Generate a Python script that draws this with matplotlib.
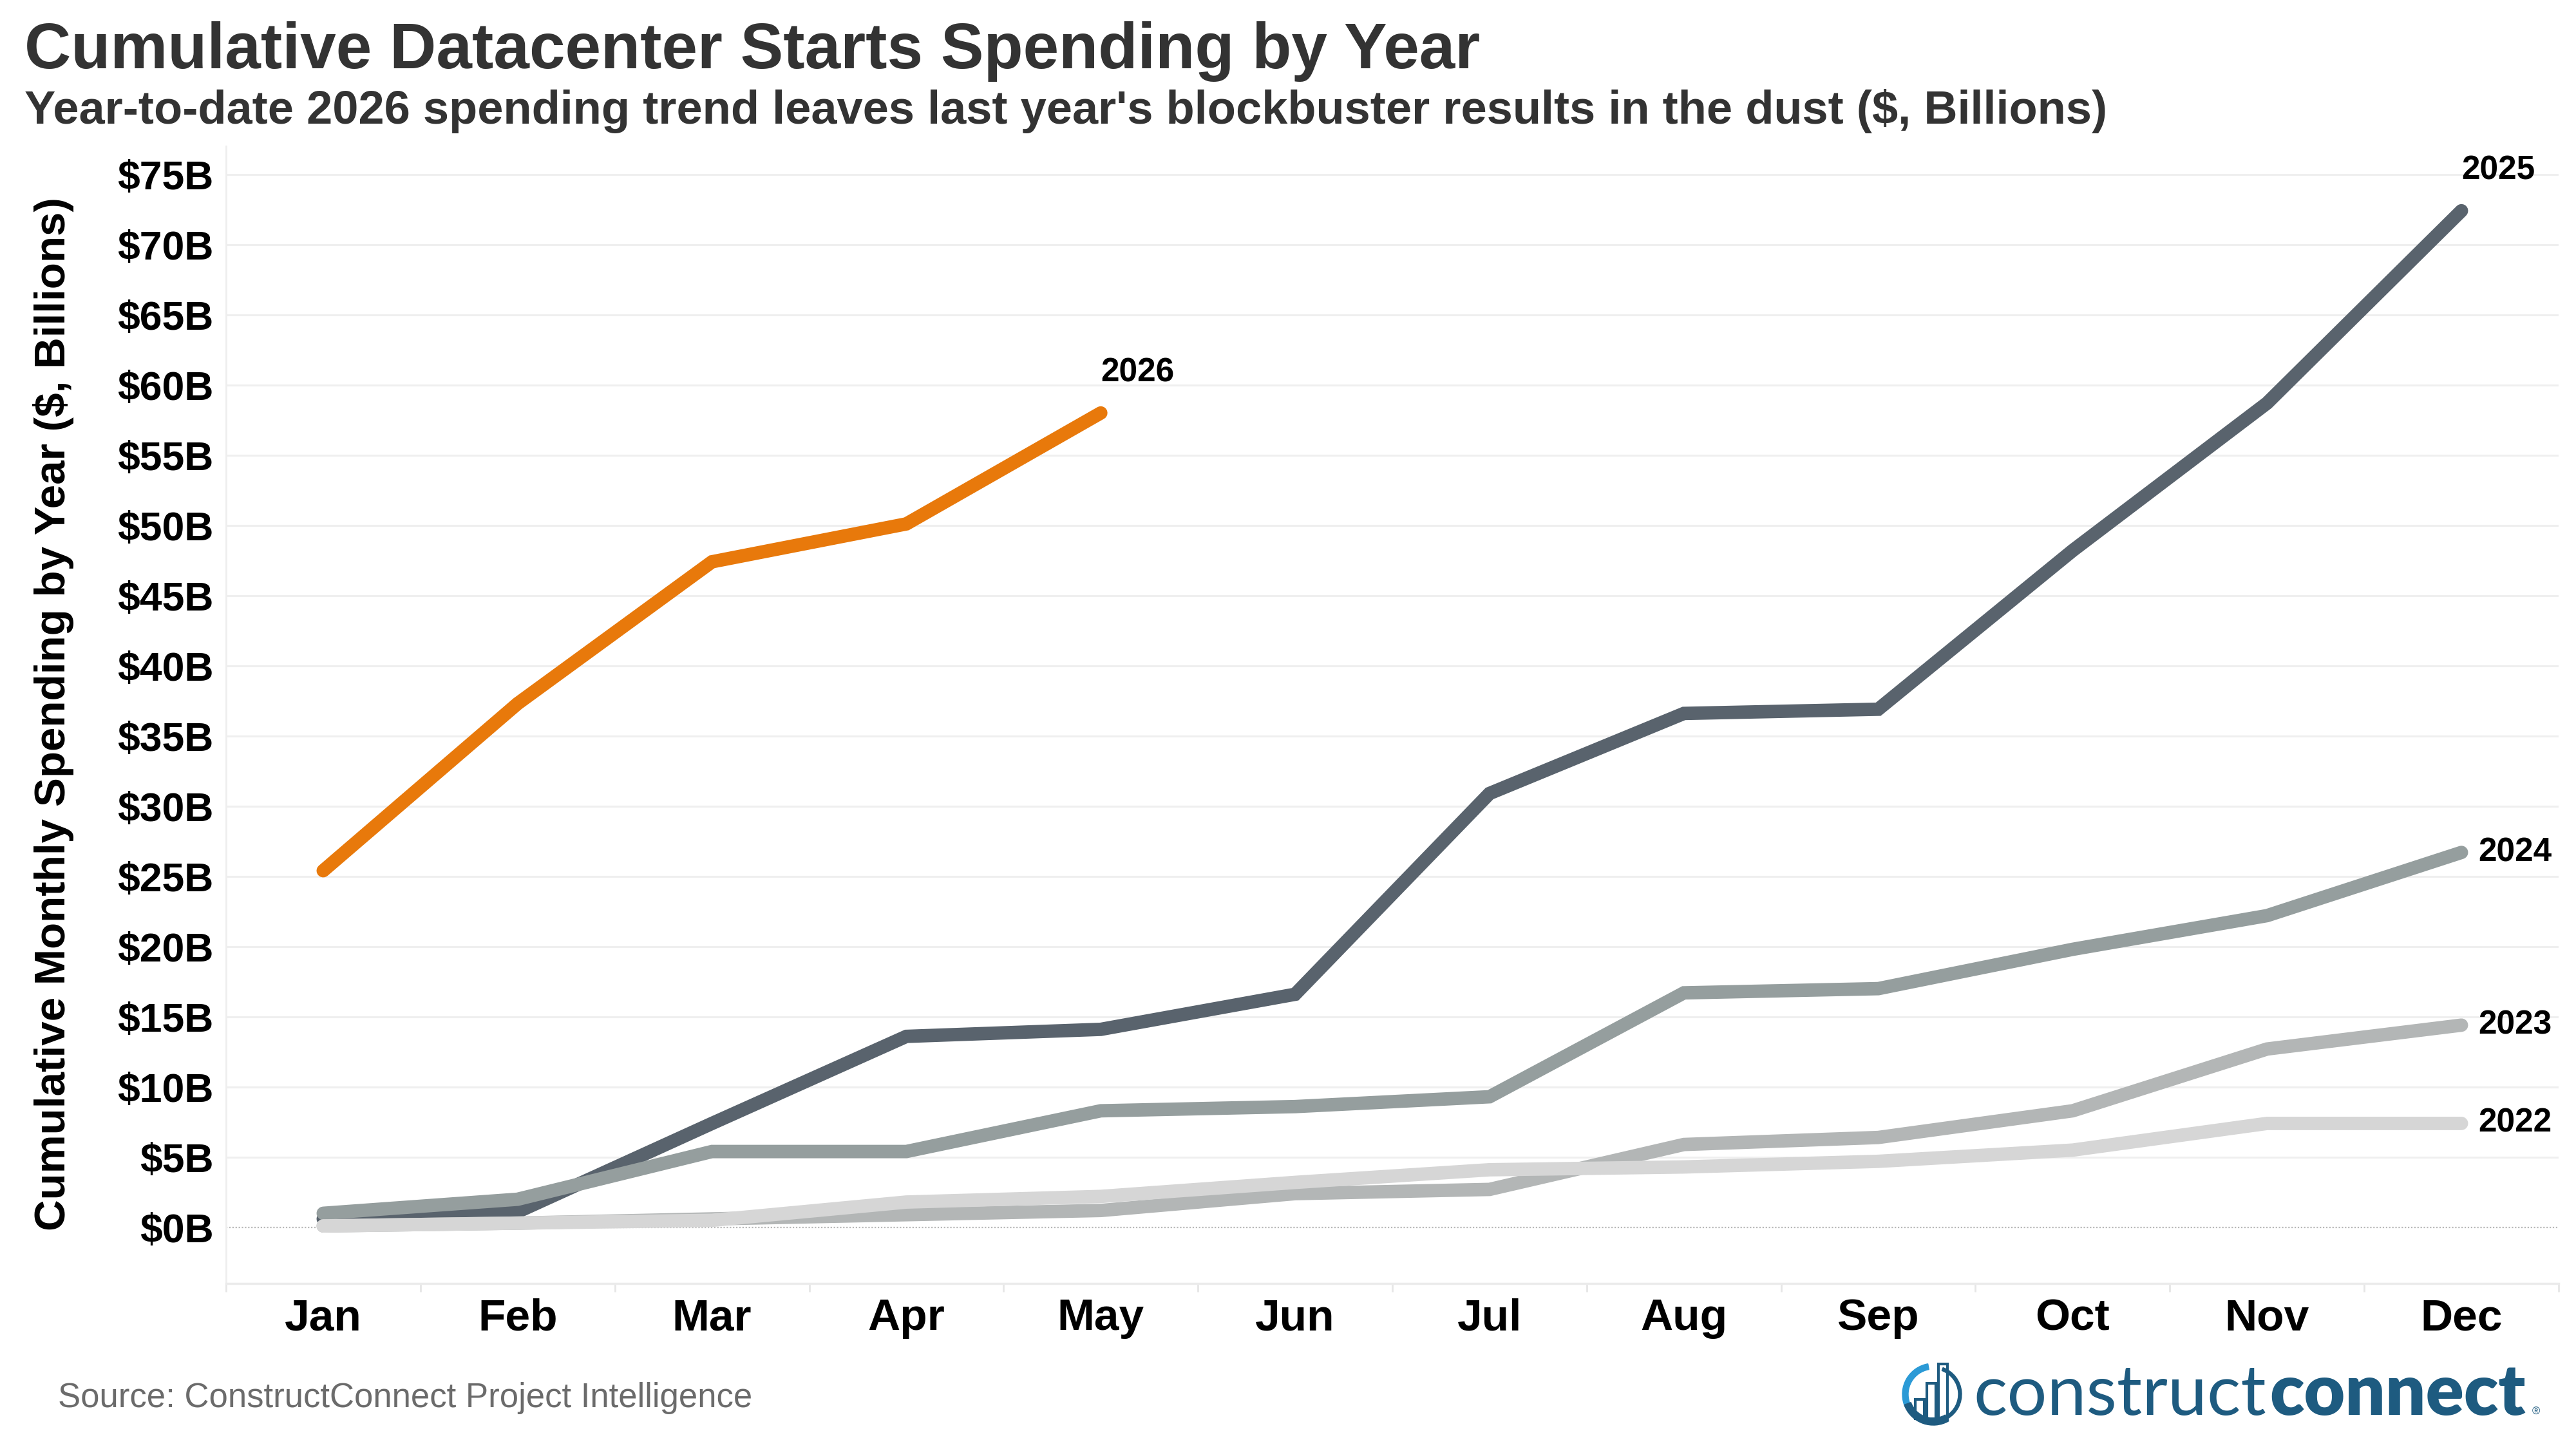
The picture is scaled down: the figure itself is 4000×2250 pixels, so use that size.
import matplotlib
matplotlib.use('Agg')
import matplotlib.pyplot as plt
from matplotlib.patches import Wedge, Rectangle
from matplotlib.ticker import FixedLocator

plt.rcParams['font.family'] = ['Liberation Sans', 'DejaVu Sans']

# ---------------- data ----------------
months = ['Jan', 'Feb', 'Mar', 'Apr', 'May', 'Jun', 'Jul', 'Aug', 'Sep', 'Oct', 'Nov', 'Dec']
y2022 = [0.1, 0.3, 0.5, 1.8, 2.2, 3.2, 4.1, 4.3, 4.7, 5.5, 7.4, 7.4]
y2023 = [0.1, 0.3, 0.6, 0.9, 1.2, 2.4, 2.7, 5.9, 6.4, 8.3, 12.7, 14.4]
y2024 = [1.0, 2.0, 5.4, 5.4, 8.3, 8.6, 9.3, 16.7, 17.0, 19.8, 22.2, 26.7]
y2025 = [0.6, 1.1, 7.4, 13.6, 14.1, 16.6, 30.9, 36.6, 36.9, 48.2, 58.7, 72.4]
y2026 = [25.4, 37.3, 47.4, 50.1, 58.0]
yticks = list(range(0, 80, 5))
ytick_labels = [f'${v}B' for v in yticks]

title = 'Cumulative Datacenter Starts Spending by Year'
subtitle = "Year-to-date 2026 spending trend leaves last year's blockbuster results in the dust ($, Billions)"
ylabel = 'Cumulative Monthly Spending by Year ($, Billions)'
source = 'Source: ConstructConnect Project Intelligence'

# ---------------- figure ----------------
W, H = 4000, 2250
fig = plt.figure(figsize=(40, 22.5), dpi=100)
fig.patch.set_facecolor('white')

ax = fig.add_axes([351 / W, 1 - 1993 / H, (3973 - 351) / W, (1993 - 227) / H])
ax.set_xlim(-0.5, 11.5)
ax.set_ylim(-4, 77)

grid_c = '#efefef'
for v in yticks[1:]:
    ax.axhline(v, color=grid_c, lw=2.2, zorder=0)
ax.axhline(0, color='#b8b8b8', lw=1.6, ls=(0, (1, 1.2)), zorder=0)

for s in ['top', 'right']:
    ax.spines[s].set_visible(False)
ax.spines['left'].set_color('#eeeeee')
ax.spines['left'].set_linewidth(2)
ax.spines['bottom'].set_color('#ebebeb')
ax.spines['bottom'].set_linewidth(2.5)

x = list(range(len(months)))
series = [
    (y2025, '#59636d', '2025'),
    (y2024, '#959e9e', '2024'),
    (y2023, '#b3b6b6', '2023'),
    (y2022, '#d6d6d6', '2022'),
    (y2026, '#e8790b', '2026'),
]
for i, (vals, col, name) in enumerate(series):
    xs = x[:len(vals)]
    ax.plot(xs, vals, color=col, lw=15, solid_capstyle='round',
            solid_joinstyle='miter', zorder=2 + i)

lab_kw = dict(fontsize=37, fontweight='bold', color='black', textcoords='offset points',
              annotation_clip=False)
# end labels
ax.annotate('2025', (11, y2025[-1]), xytext=(0, 27), ha='left', va='bottom', **lab_kw)
ax.annotate('2026', (len(y2026) - 1, y2026[-1]), xytext=(0, 27), ha='left', va='bottom', **lab_kw)
for vals, name in [(y2024, '2024'), (y2023, '2023'), (y2022, '2022')]:
    ax.annotate(name, (11, vals[-1]), xytext=(19, 0), ha='left', va='center', **lab_kw)

ax.yaxis.set_major_locator(FixedLocator(yticks))
ax.set_yticklabels(ytick_labels)
ax.set_xticks(x)
ax.set_xticklabels(months)
ax.set_xticks([i - 0.5 for i in range(13)], minor=True)
ax.tick_params(axis='y', length=0, pad=14, labelsize=45)
ax.tick_params(axis='x', which='major', length=0, pad=16, labelsize=50)
ax.tick_params(axis='x', which='minor', length=9, width=2, color='#e6e6e6', direction='out')
for t in ax.get_yticklabels() + ax.get_xticklabels():
    t.set_fontweight('bold')
    t.set_color('black')

ax.set_ylabel(ylabel, fontsize=48.5, fontweight='bold', color='black')
ax.yaxis.set_label_coords(-0.0652, 0.501)

# ---------------- titles ----------------
fig.text(38 / W, 1 - 106 / H, title, fontsize=72, fontweight='bold', color='#333333',
         ha='left', va='baseline')
fig.text(38 / W, 1 - 192 / H, subtitle, fontsize=52, fontweight='bold', color='#333333',
         ha='left', va='baseline')
fig.text(90 / W, 1 - 2185 / H, source, fontsize=38, color='#6b6b6b', ha='left', va='baseline')

# ---------------- logo ----------------
logo_c = '#1e5b80'
fig.canvas.draw()
renderer = fig.canvas.get_renderer()
t1 = fig.text(3064 / W, 1 - 2197 / H, 'construct', fontsize=78, family=['Lato', 'DejaVu Sans'],
              fontweight='normal', color=logo_c, ha='left', va='baseline')
bb = t1.get_window_extent(renderer)
t1.set_fontsize(78 * 455 / bb.width)
bb = t1.get_window_extent(renderer)
t2 = fig.text((bb.x1 + 6) / W, 1 - 2197 / H, 'connect', fontsize=t1.get_fontsize(),
              family=['Lato', 'DejaVu Sans'], fontweight='heavy', color=logo_c,
              ha='left', va='baseline')
bb2 = t2.get_window_extent(renderer)
t2.set_fontsize(t1.get_fontsize() * 398 / bb2.width)
fig.text(3932 / W, 1 - 2197 / H, '®', fontsize=12, color=logo_c, ha='left', va='baseline')

lax = fig.add_axes([2940 / W, 1 - 2215 / H, 125 / W, 110 / H])
lax.set_xlim(0, 125)
lax.set_ylim(0, 110)
lax.set_aspect('equal')
lax.axis('off')
cx, cy, r = 62, 50, 48
lax.add_patch(Wedge((cx, cy), r, 100, 200, width=9, color='#2b9ad6'))
lax.add_patch(Wedge((cx, cy), r, 200, 300, width=11, color=logo_c))
lax.add_patch(Wedge((cx, cy), r - 4, 300, 70, width=5, color=logo_c))
for bx, bh in [(34, 30), (52, 55), (70, 85)]:
    lax.add_patch(Rectangle((bx, 12), 14, bh, fill=False, ec=logo_c, lw=3))

fig.savefig('out.png', dpi=100, facecolor='white')
